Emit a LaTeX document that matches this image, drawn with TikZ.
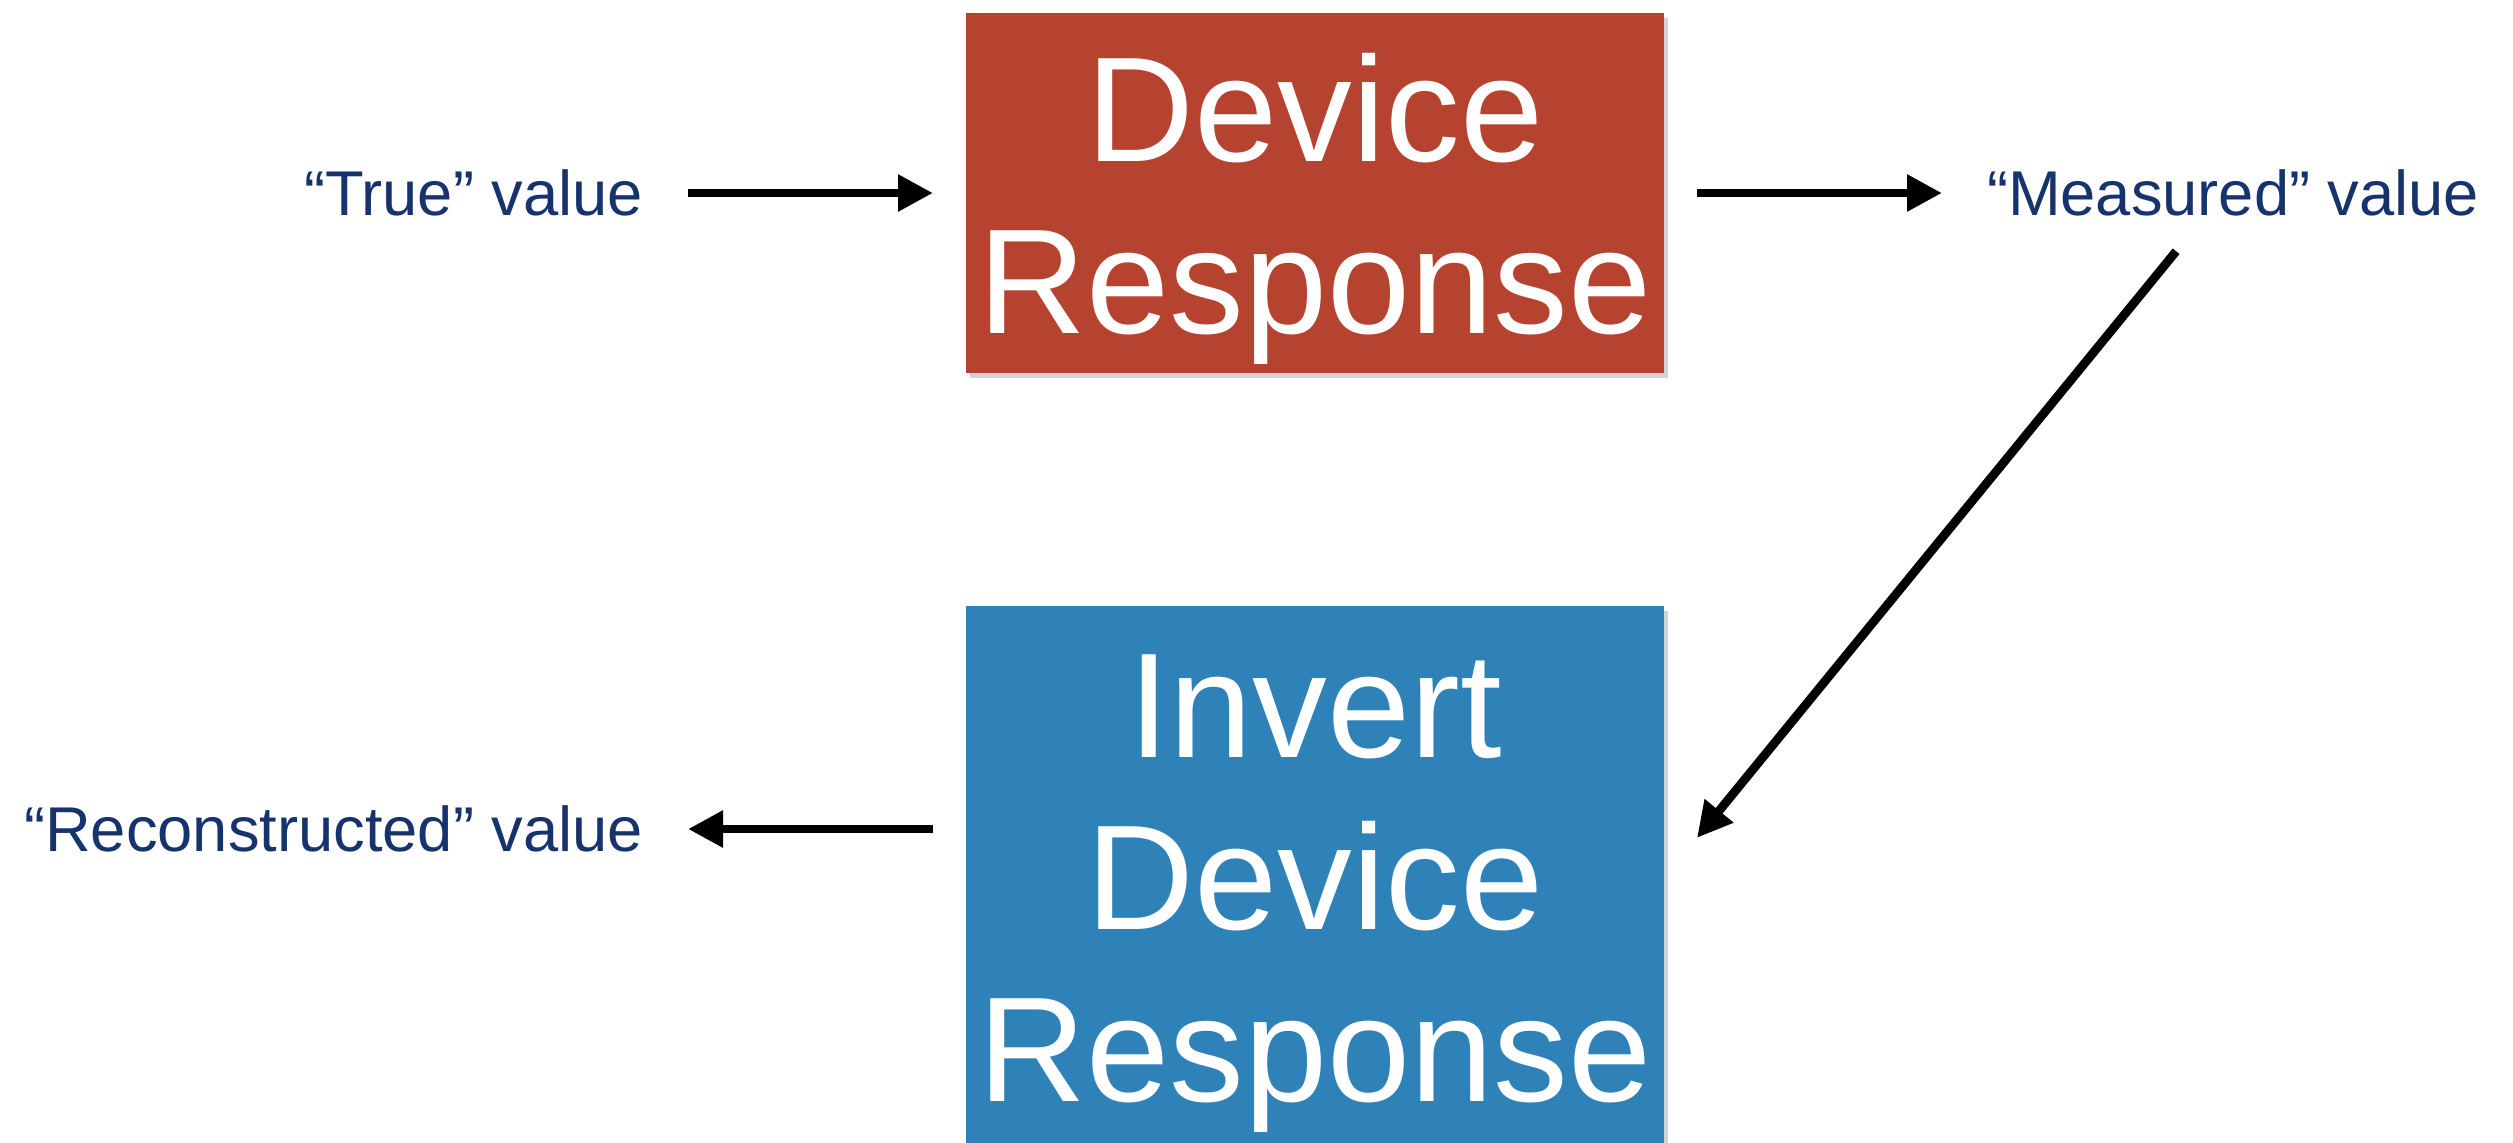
\documentclass[tikz,border=0pt]{standalone}
\usepackage{fontspec}
\setmainfont{Liberation Sans}
\usetikzlibrary{arrows.meta, positioning, shadows}

\definecolor{devred}{HTML}{B5432F}
\definecolor{invblue}{HTML}{2F82B8}
\definecolor{valnavy}{HTML}{17336D}

\begin{document}
\begin{tikzpicture}[
    node distance=2.45cm,
    box/.style={rectangle, minimum width=6.98cm, align=center, text=white, inner sep=0pt, outer sep=0.33cm,
        text depth=0pt, font=\fontsize{42.5}{49}\selectfont,
        drop shadow={shadow xshift=0.04cm, shadow yshift=-0.05cm, opacity=0.35}},
    val/.style={text=valnavy, inner sep=0pt, outer sep=0.45cm, font=\fontsize{18}{22}\selectfont},
    arrow/.style={-{Triangle[length=0.35cm, width=0.35cm]}, line width=2.5pt}
]
\useasboundingbox (0,0) rectangle (25.13,-11.42);

\node[box, fill=devred, minimum height=3.6cm] (dev) at (13.15,-1.93) {Device\\Response};
\node[box, fill=invblue, minimum height=5.44cm, below=1.67cm of dev] (inv) {Invert\\Device\\Response};

\node[val, left=of dev] (true) {``True'' value};
\node[val, right=of dev] (meas) {``Measured'' value};
\node[val, left=of inv.west, yshift=0.49cm] (recon) {``Reconstructed'' value};

\draw[arrow] (true) -- (dev);
\draw[arrow] (dev) -- (meas);
\draw[arrow] ([xshift=-0.57cm, yshift=0.1cm]meas.south) -- (inv.6);
\draw[arrow] (inv.west |- recon.east) -- (recon.east);

\end{tikzpicture}
\end{document}
